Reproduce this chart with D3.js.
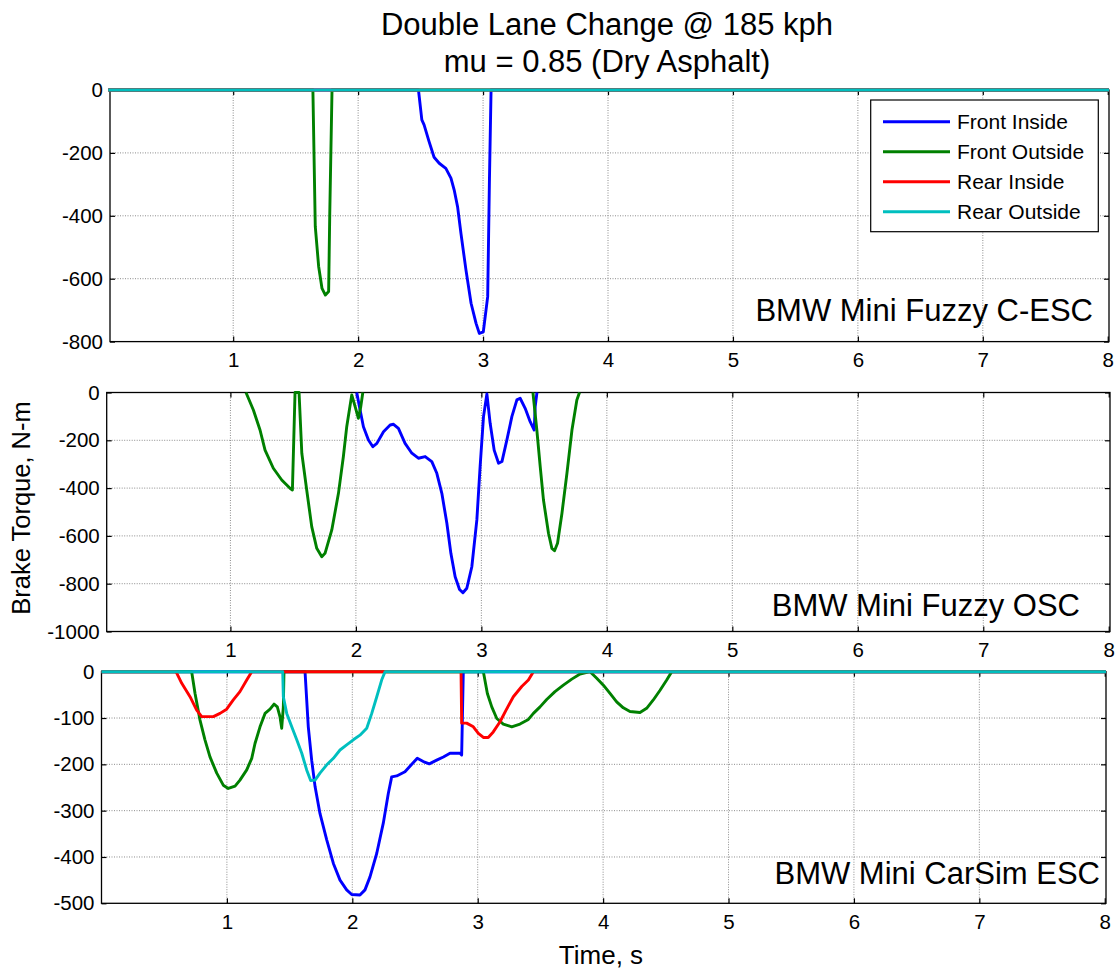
<!DOCTYPE html>
<html>
<head>
<meta charset="utf-8">
<script src="https://cdn.jsdelivr.net/npm/d3@7"></script>
<style>
  html, body { margin: 0; padding: 0; background: #fff; }
  svg { display: block; font-family: "Liberation Sans", Arial, sans-serif; }
  .grid line { stroke: #8c8c8c; stroke-width: 1; stroke-dasharray: 1,1.5; }
  .axis path, .axis line { stroke: #000; stroke-width: 1.2; }
  .axis text { fill: #000; font-size: 20.5px; }
</style>
</head>
<body>
<svg id="chart" width="1119" height="970"></svg>
<script>
// Brake torque per wheel, [time s, torque N-m]; null marks a gap in the trace.
const seriesNames = ["Front Inside", "Front Outside", "Rear Inside", "Rear Outside"];
const seriesColors = ["#0000ff", "#008000", "#ff0000", "#00bfbf"];
const xTicks = [1, 2, 3, 4, 5, 6, 7, 8];

// Fuzzy C-ESC
const cescFrontInside = [[0,0],[2.483,0],[2.510,-95],[2.528,-111],[2.568,-164],[2.608,-214],[2.649,-233],[2.702,-249],[2.743,-280],[2.769,-318],[2.796,-371],[2.823,-456],[2.863,-572],[2.904,-678],[2.944,-742],[2.970,-774],[3.002,-769],[3.037,-657],[3.051,-286],[3.064,0],[8.01,0]];
const cescFrontOutside = [[0,0],[1.638,0],[1.657,-434],[1.684,-561],[1.711,-631],[1.738,-652],[1.764,-641],[1.773,-392],[1.791,0],[8.01,0]];
const cescRearInside = [[0,0],[8.01,0]];
const cescRearOutside = [[0,0],[8.01,0]];
const cescTicks = [0, -200, -400, -600, -800];

// Fuzzy OSC
const oscFrontInside = [[2.007,0],[2.028,-59],[2.060,-143],[2.100,-199],[2.135,-227],[2.167,-213],[2.220,-164],[2.273,-136],[2.300,-133],[2.339,-150],[2.392,-213],[2.446,-254],[2.498,-275],[2.552,-268],[2.605,-289],[2.645,-338],[2.685,-422],[2.725,-547],[2.757,-673],[2.791,-771],[2.826,-824],[2.853,-838],[2.884,-819],[2.924,-729],[2.964,-533],[2.990,-310],[3.017,-101],[3.044,-6],[3.070,-129],[3.102,-241],[3.137,-296],[3.164,-289],[3.203,-199],[3.243,-101],[3.283,-31],[3.309,-24],[3.349,-66],[3.389,-122],[3.421,-157],[3.429,-59],[3.443,0]];
const oscFrontOutside = [[1.124,0],[1.183,-73],[1.236,-157],[1.276,-241],[1.342,-317],[1.409,-366],[1.475,-401],[1.494,-408],[1.515,0],[1.547,0],[1.569,-254],[1.608,-408],[1.648,-561],[1.688,-652],[1.728,-687],[1.754,-673],[1.808,-575],[1.861,-422],[1.900,-269],[1.927,-143],[1.967,-10],[1.994,-59],[2.020,-108],[2.039,-59],[2.055,0],
  [2.5,null],
  [3.411,0],[3.442,-157],[3.469,-310],[3.495,-450],[3.535,-589],[3.562,-652],[3.583,-662],[3.607,-631],[3.642,-506],[3.682,-338],[3.722,-157],[3.761,-31],[3.782,0]];
const oscRearInside = [];
const oscRearOutside = [];
const oscTicks = [0, -200, -400, -600, -800, -1000];

// CarSim ESC
const carsimFrontInside = [[0,0],[1.623,0],[1.649,-119],[1.676,-191],[1.703,-248],[1.742,-306],[1.796,-363],[1.849,-414],[1.902,-450],[1.955,-471],[1.995,-481],[2.061,-482],[2.101,-471],[2.141,-443],[2.195,-392],[2.247,-327],[2.287,-263],[2.314,-227],[2.354,-225],[2.420,-216],[2.474,-200],[2.518,-187],[2.566,-194],[2.614,-199],[2.673,-191],[2.726,-184],[2.779,-176],[2.859,-176],[2.872,-180],[2.885,0],[8.01,0]];
const carsimFrontOutside = [[0,0],[0.719,0],[0.746,-47],[0.785,-104],[0.825,-147],[0.865,-184],[0.919,-219],[0.971,-245],[1.011,-252],[1.065,-247],[1.104,-234],[1.158,-212],[1.198,-187],[1.224,-155],[1.264,-119],[1.304,-90],[1.344,-81],[1.376,-70],[1.402,-76],[1.423,-97],[1.437,-122],[1.450,-76],[1.455,0],[3.045,0],[3.077,-47],[3.112,-76],[3.152,-101],[3.204,-113],[3.271,-119],[3.337,-113],[3.404,-103],[3.444,-90],[3.497,-76],[3.550,-60],[3.616,-43],[3.683,-29],[3.750,-16],[3.816,-5],[3.896,0],[3.949,-14],[4.002,-29],[4.055,-47],[4.108,-65],[4.161,-78],[4.214,-86],[4.294,-88],[4.347,-79],[4.400,-61],[4.454,-40],[4.507,-18],[4.547,0],[8.01,0]];
const carsimRearInside = [[0,0],[0.594,0],[0.640,-25],[0.706,-54],[0.759,-83],[0.799,-97],[0.892,-97],[0.945,-90],[0.998,-81],[1.051,-61],[1.104,-43],[1.158,-18],[1.198,0],[2.867,0],[2.872,-111],[2.912,-111],[2.965,-119],[3.005,-133],[3.045,-142],[3.084,-142],[3.124,-130],[3.178,-108],[3.226,-83],[3.284,-54],[3.351,-32],[3.404,-18],[3.444,0],[8.01,0]];
const carsimRearOutside = [[0,0],[1.445,0],[1.450,-54],[1.477,-90],[1.517,-119],[1.557,-147],[1.597,-176],[1.636,-212],[1.668,-235],[1.703,-234],[1.742,-219],[1.796,-201],[1.849,-187],[1.902,-169],[1.955,-158],[2.008,-147],[2.061,-137],[2.115,-122],[2.155,-90],[2.195,-54],[2.234,-18],[2.261,0],[8.01,0]];
const carsimTicks = [0, -100, -200, -300, -400, -500];

const panelLabels = ["BMW Mini Fuzzy C-ESC", "BMW Mini Fuzzy OSC", "BMW Mini CarSim ESC"];

const panels = [
  { series: [cescFrontInside, cescFrontOutside, cescRearInside, cescRearOutside],
    yTicks: cescTicks, xDomain: [0.014, 8.01], xRange: [110, 1109], yRange: [341.6, 90],
    label: panelLabels[0], labelX: 1093, labelY: 321, legend: true },
  { series: [oscFrontInside, oscFrontOutside, oscRearInside, oscRearOutside],
    yTicks: oscTicks, xDomain: [0.014, 8.01], xRange: [106.7, 1110], yRange: [631.5, 392.5],
    label: panelLabels[1], labelX: 1080, labelY: 616, legend: false },
  { series: [carsimFrontInside, carsimFrontOutside, carsimRearInside, carsimRearOutside],
    yTicks: carsimTicks, xDomain: [0.0, 8.01], xRange: [101.5, 1106], yRange: [903.3, 671.7],
    label: panelLabels[2], labelX: 1100, labelY: 884, legend: false }
];

const plainNumber = d => String(d);   // hyphen-minus, as in the plotting tool
const svg = d3.select("#chart");

panels.forEach(p => {
  const yDomain = [d3.min(p.yTicks), 0];
  const x = d3.scaleLinear().domain(p.xDomain).range(p.xRange);
  const y = d3.scaleLinear().domain(yDomain).range(p.yRange);
  const [x0, x1] = p.xRange;
  const [yb, yt] = p.yRange;
  const g = svg.append("g");

  g.append("rect").attr("x", x0).attr("y", yt).attr("width", x1 - x0).attr("height", yb - yt).attr("fill", "#fff");

  // dotted grid
  const grid = g.append("g").attr("class", "grid");
  grid.selectAll(".gx").data(xTicks.filter(t => x(t) < x1 - 2)).join("line")
    .attr("x1", d => x(d)).attr("x2", d => x(d)).attr("y1", yt).attr("y2", yb);
  grid.selectAll(".gy").data(p.yTicks.filter(t => t !== 0 && t !== yDomain[0])).join("line")
    .attr("x1", x0).attr("x2", x1).attr("y1", d => y(d)).attr("y2", d => y(d));

  // box with inward ticks
  g.append("g").attr("class", "axis").attr("transform", `translate(0,${yb})`)
    .call(d3.axisBottom(x).tickValues(xTicks).tickSizeInner(-5).tickSizeOuter(0).tickPadding(11).tickFormat(plainNumber));
  g.append("g").attr("class", "axis").attr("transform", `translate(0,${yt})`)
    .call(d3.axisTop(x).tickValues(xTicks).tickSizeInner(-5).tickSizeOuter(0).tickFormat(""));
  g.append("g").attr("class", "axis").attr("transform", `translate(${x0},0)`)
    .call(d3.axisLeft(y).tickValues(p.yTicks).tickSizeInner(-5).tickSizeOuter(0).tickPadding(7).tickFormat(plainNumber));
  g.append("g").attr("class", "axis").attr("transform", `translate(${x1},0)`)
    .call(d3.axisRight(y).tickValues(p.yTicks).tickSizeInner(-5).tickSizeOuter(0).tickFormat(""));
  g.selectAll(".axis .domain").remove();
  g.append("rect").attr("x", x0).attr("y", yt).attr("width", x1 - x0).attr("height", yb - yt)
    .attr("fill", "none").attr("stroke", "#000").attr("stroke-width", 1.3);

  // torque traces
  const line = d3.line().defined(d => d[1] !== null).x(d => x(d[0])).y(d => y(d[1]));
  p.series.forEach((s, i) => {
    if (!s.length) return;
    g.append("path").datum(s).attr("d", line).attr("fill", "none")
      .attr("stroke", seriesColors[i]).attr("stroke-width", 2.9).attr("stroke-linejoin", "round");
  });

  g.append("text").attr("x", p.labelX).attr("y", p.labelY).attr("text-anchor", "end")
    .attr("font-size", 31).text(p.label);

  if (p.legend) {
    const lg = g.append("g");
    lg.append("rect").attr("x", 870.7).attr("y", 100).attr("width", 227.6).attr("height", 131.7)
      .attr("fill", "#fff").attr("stroke", "#000").attr("stroke-width", 1.2);
    seriesNames.forEach((name, i) => {
      const cy = 121.7 + i * 30;
      lg.append("line").attr("x1", 883).attr("x2", 950).attr("y1", cy).attr("y2", cy)
        .attr("stroke", seriesColors[i]).attr("stroke-width", 2.9);
      lg.append("text").attr("x", 957).attr("y", cy).attr("dy", "0.35em")
        .attr("font-size", 21).text(name);
    });
  }
});

svg.append("text").attr("x", 607).attr("y", 35).attr("text-anchor", "middle").attr("font-size", 31)
  .text("Double Lane Change @ 185 kph");
svg.append("text").attr("x", 607).attr("y", 72).attr("text-anchor", "middle").attr("font-size", 31)
  .text("mu = 0.85 (Dry Asphalt)");
svg.append("text").attr("transform", "translate(30,508) rotate(-90)").attr("text-anchor", "middle")
  .attr("font-size", 25.5).text("Brake Torque, N-m");
svg.append("text").attr("x", 601).attr("y", 964).attr("text-anchor", "middle").attr("font-size", 26)
  .text("Time, s");
</script>
</body>
</html>
